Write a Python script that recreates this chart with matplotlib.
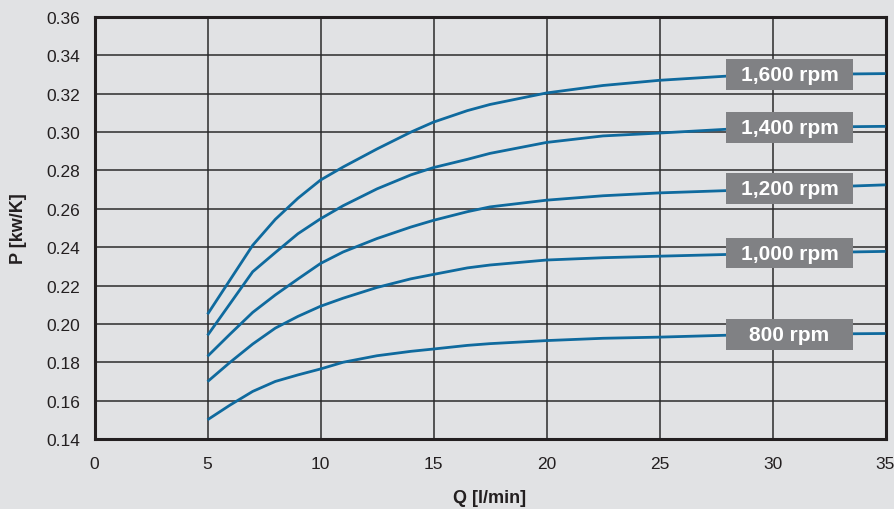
import numpy as np
import matplotlib
matplotlib.use("Agg")
import matplotlib.pyplot as plt
from matplotlib.path import Path

plt.rcParams['font.family'] = ['Liberation Sans', 'DejaVu Sans']

# ---- data ----
q = [5, 6, 7, 8, 9, 10, 11, 12.5, 14, 15, 16.5, 17.5, 20, 22.5, 25, 28, 31, 35]
p_1600 = [0.205, 0.223, 0.241, 0.2545, 0.2655, 0.2750, 0.2818, 0.2912, 0.3000, 0.3052,
          0.3112, 0.3144, 0.3204, 0.3243, 0.327, 0.3292, 0.330, 0.3305]
p_1400 = [0.194, 0.2106, 0.2272, 0.2372, 0.247, 0.2548, 0.2616, 0.2704, 0.2777, 0.2815,
          0.2858, 0.2889, 0.2946, 0.298, 0.2995, 0.3015, 0.3025, 0.303]
p_1200 = [0.1831, 0.1947, 0.206, 0.2151, 0.2234, 0.2315, 0.2375, 0.2445, 0.2505, 0.254,
          0.2585, 0.261, 0.2645, 0.2668, 0.2683, 0.2695, 0.2708, 0.2725]
p_1000 = [0.1699, 0.180, 0.1895, 0.1978, 0.2039, 0.2092, 0.2134, 0.219, 0.2235, 0.2258,
          0.2292, 0.2307, 0.2333, 0.2345, 0.2353, 0.2362, 0.2370, 0.2378]
p_800 = [0.150, 0.1577, 0.1648, 0.170, 0.1734, 0.1765, 0.180, 0.1834, 0.1857, 0.1869,
         0.1888, 0.1897, 0.1913, 0.1925, 0.1931, 0.1941, 0.1946, 0.195]
series = [p_1600, p_1400, p_1200, p_1000, p_800]
labels = ["1,600 rpm", "1,400 rpm", "1,200 rpm", "1,000 rpm", "800 rpm"]
x_ticks = [0, 5, 10, 15, 20, 25, 30, 35]
y_ticks = [0.14, 0.16, 0.18, 0.20, 0.22, 0.24, 0.26, 0.28, 0.30, 0.32, 0.34, 0.36]

BG = "#e1e2e4"
LINE = "#0f6a9e"
BOX = "#808184"
DARK = "#231f20"

fig = plt.figure(figsize=(8.95, 5.10), dpi=100, facecolor=BG)
ax = fig.add_axes([0.1056, 0.1373, 0.8838, 0.8274], facecolor=BG)

ax.set_xlim(0, 35)
ax.set_ylim(0.14, 0.36)
ax.set_xticks(x_ticks)
ax.set_yticks(y_ticks)
ax.set_xticklabels([str(t) for t in x_ticks])
ax.set_yticklabels([f"{t:.2f}" for t in y_ticks])
ax.tick_params(length=0, labelsize=12.5, colors=DARK)
ax.tick_params(axis='y', pad=10)
ax.tick_params(axis='x', pad=12)
ax.grid(True, color="#2b2b2b", linewidth=1.1)
ax.set_axisbelow(True)
for s in ax.spines.values():
    s.set_linewidth(2.2)
    s.set_color(DARK)

for ys in series:
    ax.plot(q, ys, color=LINE, linewidth=2.0, zorder=3,
            solid_joinstyle='round', solid_capstyle='butt')


def label_box(x0, y0, width, height, mutation_size):
    cx = x0 + width / 2
    cy = y0 + height / 2
    w = 6.1 * mutation_size
    h = 1.474 * mutation_size
    verts = [(cx - w / 2, cy - h / 2), (cx + w / 2, cy - h / 2),
             (cx + w / 2, cy + h / 2), (cx - w / 2, cy + h / 2),
             (cx - w / 2, cy - h / 2)]
    codes = [Path.MOVETO, Path.LINETO, Path.LINETO, Path.LINETO, Path.CLOSEPOLY]
    return Path(verts, codes)


label_x = 30.75
for ys, lab in zip(series, labels):
    yv = np.interp(label_x, q, ys)
    ax.text(label_x, yv, lab, ha='center', va='center', color='white',
            fontsize=15, fontweight='bold', zorder=5,
            bbox=dict(boxstyle=label_box, fc=BOX, ec='none'))

ax.set_xlabel("Q [l/min]", fontsize=13, fontweight='bold', color=DARK, labelpad=13)
ax.set_ylabel("P [kw/K]", fontsize=13, fontweight='bold', color=DARK, labelpad=14)

fig.savefig("out.png", dpi=100, facecolor=BG)
